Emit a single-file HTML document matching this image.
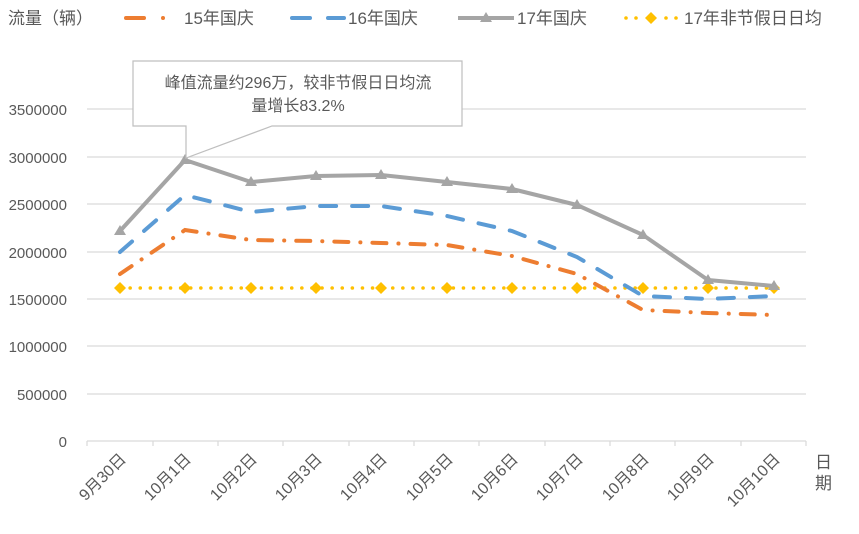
<!DOCTYPE html>
<html><head><meta charset="utf-8"><style>
body{margin:0;background:#fff}
text{font-family:"Liberation Sans","Noto Sans CJK SC",sans-serif;fill:#595959}
</style></head><body>
<svg width="859" height="529" viewBox="0 0 859 529" xmlns="http://www.w3.org/2000/svg">
<g stroke="#d9d9d9" stroke-width="1.2">
<line x1="87" y1="109" x2="806" y2="109"/>
<line x1="87" y1="157" x2="806" y2="157"/>
<line x1="87" y1="204" x2="806" y2="204"/>
<line x1="87" y1="252" x2="806" y2="252"/>
<line x1="87" y1="299" x2="806" y2="299"/>
<line x1="87" y1="346" x2="806" y2="346"/>
<line x1="87" y1="394" x2="806" y2="394"/>
<line x1="87" y1="441" x2="806" y2="441"/>
<line x1="87" y1="441" x2="87" y2="446"/><line x1="153" y1="441" x2="153" y2="446"/><line x1="218" y1="441" x2="218" y2="446"/><line x1="283" y1="441" x2="283" y2="446"/><line x1="349" y1="441" x2="349" y2="446"/><line x1="414" y1="441" x2="414" y2="446"/><line x1="479" y1="441" x2="479" y2="446"/><line x1="545" y1="441" x2="545" y2="446"/><line x1="610" y1="441" x2="610" y2="446"/><line x1="675" y1="441" x2="675" y2="446"/><line x1="741" y1="441" x2="741" y2="446"/><line x1="806" y1="441" x2="806" y2="446"/>
</g>
<g font-size="15" text-anchor="end">
<text x="67" y="115">3500000</text><text x="67" y="163">3000000</text><text x="67" y="210">2500000</text><text x="67" y="258">2000000</text><text x="67" y="305">1500000</text><text x="67" y="352">1000000</text><text x="67" y="400">500000</text><text x="67" y="447">0</text>
</g>
<g font-size="16" text-anchor="end">
<text transform="translate(127,460) rotate(-45)">9月30日</text>
<text transform="translate(192,460) rotate(-45)">10月1日</text>
<text transform="translate(258,460) rotate(-45)">10月2日</text>
<text transform="translate(323,460) rotate(-45)">10月3日</text>
<text transform="translate(388,460) rotate(-45)">10月4日</text>
<text transform="translate(454,460) rotate(-45)">10月5日</text>
<text transform="translate(519,460) rotate(-45)">10月6日</text>
<text transform="translate(584,460) rotate(-45)">10月7日</text>
<text transform="translate(650,460) rotate(-45)">10月8日</text>
<text transform="translate(715,460) rotate(-45)">10月9日</text>
<text transform="translate(781,460) rotate(-45)">10月10日</text>
</g>
<text x="815" y="468" font-size="17">日</text>
<text x="815" y="489" font-size="17">期</text>
<!-- avg -->
<polyline fill="none" stroke="#ffc000" stroke-width="3.5" stroke-dasharray="0.1 10" stroke-linecap="round" points="120,288 774,288"/>
<g fill="#ffc000">
<path d="M120,282 l6,6 -6,6 -6,-6z"/><path d="M185,282 l6,6 -6,6 -6,-6z"/><path d="M251,282 l6,6 -6,6 -6,-6z"/><path d="M316,282 l6,6 -6,6 -6,-6z"/><path d="M381,282 l6,6 -6,6 -6,-6z"/><path d="M447,282 l6,6 -6,6 -6,-6z"/><path d="M512,282 l6,6 -6,6 -6,-6z"/><path d="M577,282 l6,6 -6,6 -6,-6z"/><path d="M643,282 l6,6 -6,6 -6,-6z"/><path d="M708,282 l6,6 -6,6 -6,-6z"/><path d="M774,282 l6,6 -6,6 -6,-6z"/>
</g>
<!-- 15 -->
<polyline fill="none" stroke="#ed7d31" stroke-width="4" stroke-linecap="round" stroke-dasharray="14 12 0.1 12" points="120,274 185,230 251,240 316,241 381,243 447,245 512,256 577,274 643,310 708,313 774,315"/>
<!-- 16 -->
<polyline fill="none" stroke="#5b9bd5" stroke-width="4" stroke-linecap="round" stroke-dasharray="16 16" points="120,252 185,195 251,212 316,206 381,206 447,216 512,231 577,257 643,296 708,299 774,296"/>
<!-- 17 -->
<polyline fill="none" stroke="#a5a5a5" stroke-width="4" stroke-linejoin="round" points="120,231 185,160 251,182 316,176 381,175 447,182 512,189 577,205 643,235 708,280 774,286"/>
<g fill="#a5a5a5">
<path d="M120,225 l6,10 -12,0z"/><path d="M185,154 l6,10 -12,0z"/><path d="M251,176 l6,10 -12,0z"/><path d="M316,170 l6,10 -12,0z"/><path d="M381,169 l6,10 -12,0z"/><path d="M447,176 l6,10 -12,0z"/><path d="M512,183 l6,10 -12,0z"/><path d="M577,199 l6,10 -12,0z"/><path d="M643,229 l6,10 -12,0z"/><path d="M708,274 l6,10 -12,0z"/><path d="M774,280 l6,10 -12,0z"/>
</g>
<!-- callout -->
<path d="M133,61 H462 V126 H272 L186,158 L186,126 H133 Z" fill="#fff" stroke="#bfbfbf" stroke-width="1.2"/>
<text x="298" y="88" font-size="16" text-anchor="middle">峰值流量约296万，较非节假日日均流</text>
<text x="298" y="111" font-size="16" text-anchor="middle">量增长83.2%</text>
<!-- legend -->
<text x="8" y="24" font-size="17">流量（辆）</text>
<line x1="126" y1="18" x2="144" y2="18" stroke="#ed7d31" stroke-width="4" stroke-linecap="round"/>
<circle cx="163" cy="18" r="2" fill="#ed7d31"/>
<text x="184" y="24" font-size="17">15年国庆</text>
<line x1="292" y1="18" x2="310" y2="18" stroke="#5b9bd5" stroke-width="4" stroke-linecap="round"/>
<line x1="328" y1="18" x2="344" y2="18" stroke="#5b9bd5" stroke-width="4" stroke-linecap="round"/>
<text x="348" y="24" font-size="17">16年国庆</text>
<line x1="458" y1="18" x2="514" y2="18" stroke="#a5a5a5" stroke-width="4"/>
<path d="M486,12 l6,10 -12,0z" fill="#a5a5a5"/>
<text x="517" y="24" font-size="17">17年国庆</text>
<g fill="#ffc000"><circle cx="626" cy="18" r="1.8"/><circle cx="636" cy="18" r="1.8"/><circle cx="666" cy="18" r="1.8"/><circle cx="676" cy="18" r="1.8"/><path d="M651,12 l6,6 -6,6 -6,-6z"/></g>
<text x="684" y="24" font-size="17">17年非节假日日均</text>
</svg>
</body></html>
